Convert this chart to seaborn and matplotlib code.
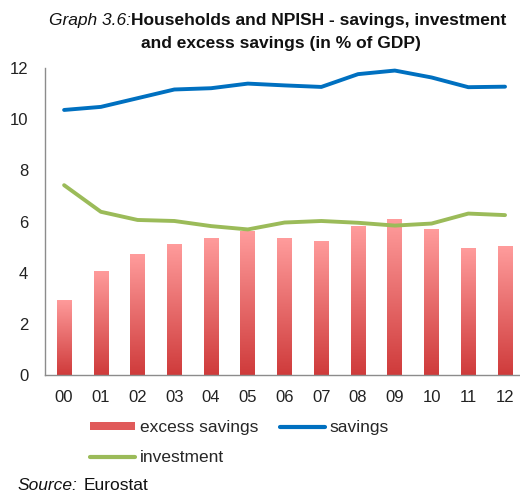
import numpy as np
import matplotlib
matplotlib.use("Agg")
import matplotlib.pyplot as plt
from matplotlib.colors import LinearSegmentedColormap
from matplotlib.patches import Patch
from matplotlib.lines import Line2D
import seaborn as sns

# data (in % of GDP)
years = ["00", "01", "02", "03", "04", "05", "06", "07", "08", "09", "10", "11", "12"]
excess_savings = [2.95, 4.07, 4.72, 5.13, 5.37, 5.62, 5.34, 5.25, 5.82, 6.09, 5.69, 4.95, 5.04]
savings = [10.36, 10.48, 10.82, 11.16, 11.21, 11.39, 11.32, 11.26, 11.76, 11.9, 11.63, 11.25, 11.27]
investment = [7.42, 6.38, 6.06, 6.02, 5.82, 5.69, 5.96, 6.02, 5.95, 5.84, 5.92, 6.31, 6.25]

sns.set_style("white")
plt.rcParams["font.family"] = ["Liberation Sans", "DejaVu Sans"]

W, H = 520, 494
fig = plt.figure(figsize=(W / 100, H / 100), dpi=100)

# axes box in pixels: left 45, right 519, top 68, bottom 375
ax = fig.add_axes([45 / W, (H - 375) / H, (519 - 45) / W, (375 - 68) / H])

blue = "#0070c0"
green = "#9bbb59"
bar_cmap = LinearSegmentedColormap.from_list("bars", ["#cf3b3b", "#ff9c9c"])

sns.barplot(x=years, y=excess_savings, ax=ax, width=0.4, color="#e06060")
x = np.arange(len(years))
sns.lineplot(x=x, y=savings, ax=ax, color=blue, linewidth=2.8)
sns.lineplot(x=x, y=investment, ax=ax, color=green, linewidth=2.8)

# vertical gradient fill inside each bar
grad = np.linspace(0, 1, 256).reshape(-1, 1)
for p in ax.patches:
    x0, y0 = p.get_x(), p.get_y()
    w, h = p.get_width(), p.get_height()
    img = ax.imshow(grad, cmap=bar_cmap, aspect="auto", origin="lower",
                    extent=[x0, x0 + w, y0, y0 + h], zorder=1.5)
    img.set_clip_path(p)
    p.set_facecolor("none")
    p.set_edgecolor("none")

ax.set_xlim(-0.52, 12.38)
ax.set_ylim(0, 12)
ax.set_yticks([0, 2, 4, 6, 8, 10, 12])
ax.tick_params(axis="both", length=0, labelsize=12, colors="#222222")
ax.tick_params(axis="x", pad=11)
ax.tick_params(axis="y", pad=12)
for s in ["top", "right"]:
    ax.spines[s].set_visible(False)
for s in ["left", "bottom"]:
    ax.spines[s].set_color("#8c8c8c")
    ax.spines[s].set_linewidth(1.0)

# title: italic label + bold text
fig.text(131 / W, 1 - 25 / H, "Graph 3.6:", fontsize=12.5, style="italic",
         ha="right", va="baseline", color="#111111")
fig.text(131 / W, 1 - 25 / H, "Households and NPISH - savings, investment",
         fontsize=12.5, weight="bold", ha="left", va="baseline", color="#111111")
fig.text(281 / W, 1 - 48 / H, "and excess savings (in % of GDP)",
         fontsize=12.5, weight="bold", ha="center", va="baseline", color="#111111")

# legend below the plot
handles = [
    Patch(facecolor="#e05a5a", edgecolor="none"),
    Line2D([], [], color=green, linewidth=3),
    Line2D([], [], color=blue, linewidth=3),
]
labels = ["excess savings", "investment", "savings"]
fig.legend(handles, labels, loc="upper left", bbox_to_anchor=(90 / W, 1 - 420 / H),
           ncol=2, frameon=False, fontsize=12.5, handlelength=2.6, handleheight=0.3,
           handletextpad=0.3, columnspacing=1.2, labelspacing=0.85,
           borderpad=0, borderaxespad=0)

fig.text(17 / W, 1 - 490 / H, "Source:", fontsize=12.5, style="italic",
         ha="left", va="baseline", color="#111111")
fig.text(84 / W, 1 - 490 / H, "Eurostat", fontsize=12.5,
         ha="left", va="baseline", color="#111111")

fig.savefig("out.png", dpi=100)
